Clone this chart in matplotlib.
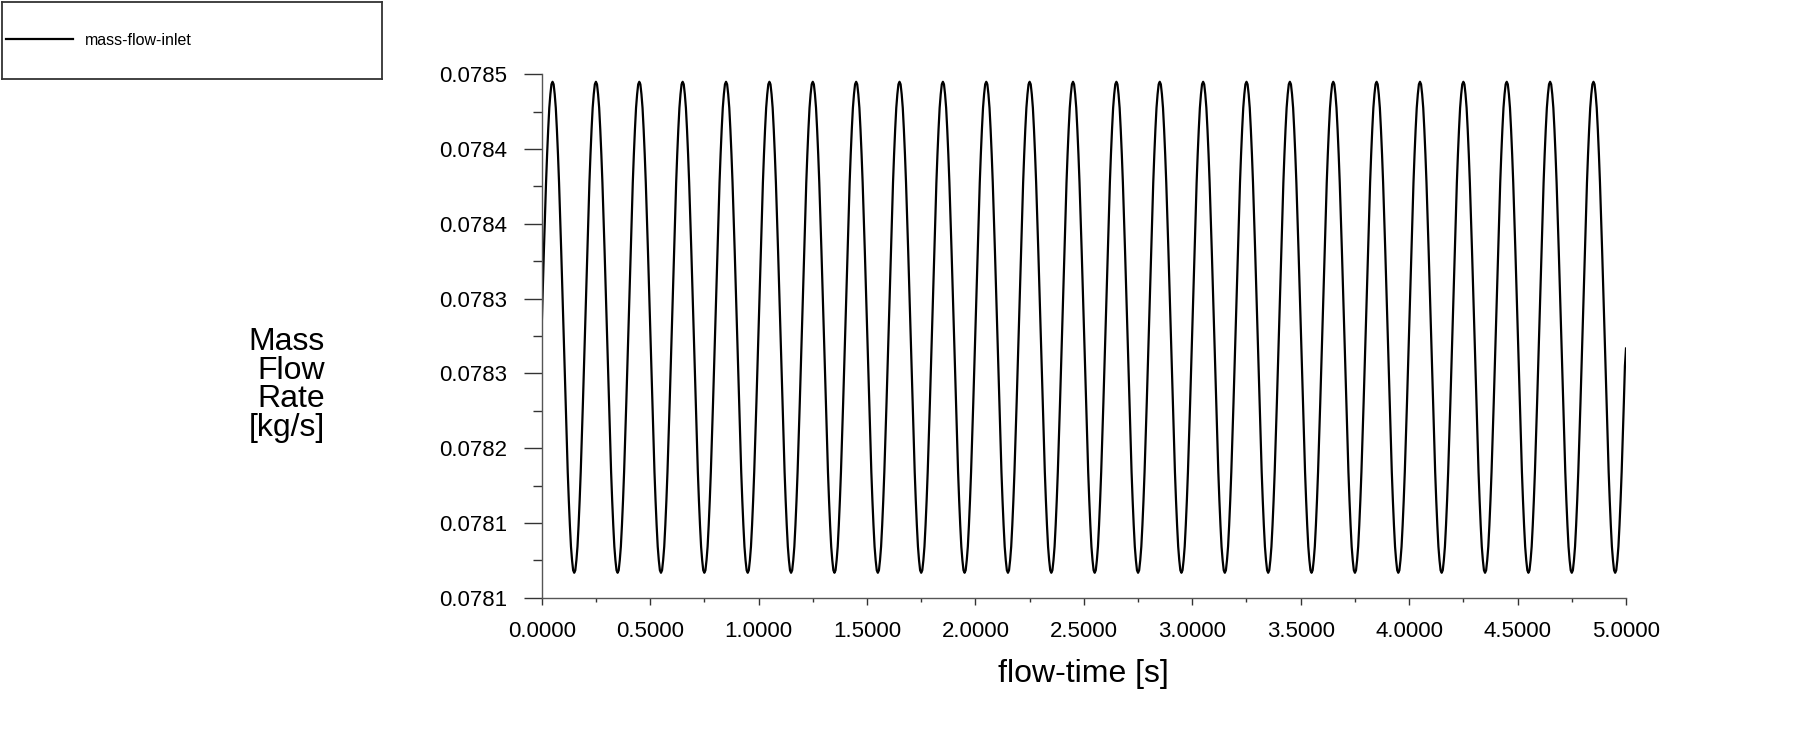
import matplotlib
matplotlib.use('Agg')
import matplotlib.pyplot as plt
import matplotlib.ticker as ticker
import numpy as np

plt.rcParams['font.family'] = ['Liberation Sans', 'DejaVu Sans']

cycle_rate = [0.078297, 0.078328, 0.078358, 0.078386, 0.078413,
              0.078436, 0.078456, 0.078473, 0.078484, 0.078492,
              0.078494, 0.078492, 0.078484, 0.078473, 0.078456,
              0.078436, 0.078413, 0.078386, 0.078358, 0.078328,
              0.078297, 0.078266, 0.078236, 0.078208, 0.078181,
              0.078158, 0.078138, 0.078121, 0.078110, 0.078102,
              0.078100, 0.078102, 0.078110, 0.078121, 0.078138,
              0.078158, 0.078181, 0.078208, 0.078236, 0.078266]
n_cycles = 25
dt = 0.005
final_rate = 0.07828

rate = list(cycle_rate) * n_cycles + [final_rate]
flow_time = np.arange(len(rate)) * dt

y_ticks = [0.07808, 0.07814, 0.07820, 0.07826, 0.07832, 0.07838, 0.07844, 0.07850]
x_ticks = [0.0, 0.5, 1.0, 1.5, 2.0, 2.5, 3.0, 3.5, 4.0, 4.5, 5.0]

W, H = 1807, 748
fig = plt.figure(figsize=(W / 100, H / 100), dpi=100)
ax = fig.add_axes([541.7 / W, 1 - 597.7 / H, (1626 - 541.7) / W, (597.7 - 74.3) / H])

ax.plot(flow_time, rate, c='k', lw=1.6, label='mass-flow-inlet')

ax.set_xlim(0, 5)
ax.set_ylim(y_ticks[0], y_ticks[-1])
ax.set_xticks(x_ticks)
ax.set_yticks(y_ticks)
ax.xaxis.set_minor_locator(ticker.AutoMinorLocator(2))
ax.yaxis.set_minor_locator(ticker.AutoMinorLocator(2))
ax.xaxis.set_major_formatter(ticker.FormatStrFormatter('%.4f'))
ax.yaxis.set_major_formatter(ticker.FormatStrFormatter('%.4f'))

for s in ['top', 'right']:
    ax.spines[s].set_visible(False)
for s in ['left', 'bottom']:
    ax.spines[s].set_color('#555555')
    ax.spines[s].set_linewidth(1.0)

ax.tick_params(axis='y', which='major', length=13, pad=12, labelsize=16, color='#333333', width=1)
ax.tick_params(axis='y', which='minor', length=6.5, color='#333333', width=1)
ax.tick_params(axis='x', which='major', length=5, pad=12, labelsize=16, color='#333333', width=1)
ax.tick_params(axis='x', which='minor', length=3, color='#333333', width=1)

ax.set_xlabel('flow-time [s]', fontsize=23, labelpad=12)
fig.text(325 / W, 1 - 385 / H, 'Mass\nFlow\nRate\n[kg/s]', ha='right', va='center',
         multialignment='right', fontsize=23, linespacing=0.95)

# legend box in the upper left corner
lax = fig.add_axes([1.5 / W, 1 - 79 / H, 380 / W, 77.5 / H])
lax.set_xticks([])
lax.set_yticks([])
for s in lax.spines.values():
    s.set_color('#333333')
    s.set_linewidth(1.3)
handles, labels = ax.get_legend_handles_labels()
lax.legend(handles, labels, loc='center left', frameon=False, fontsize=11.5,
           handlelength=4.2, handletextpad=0.75, borderaxespad=0, borderpad=0.3)

plt.savefig('out.png', dpi=100)
